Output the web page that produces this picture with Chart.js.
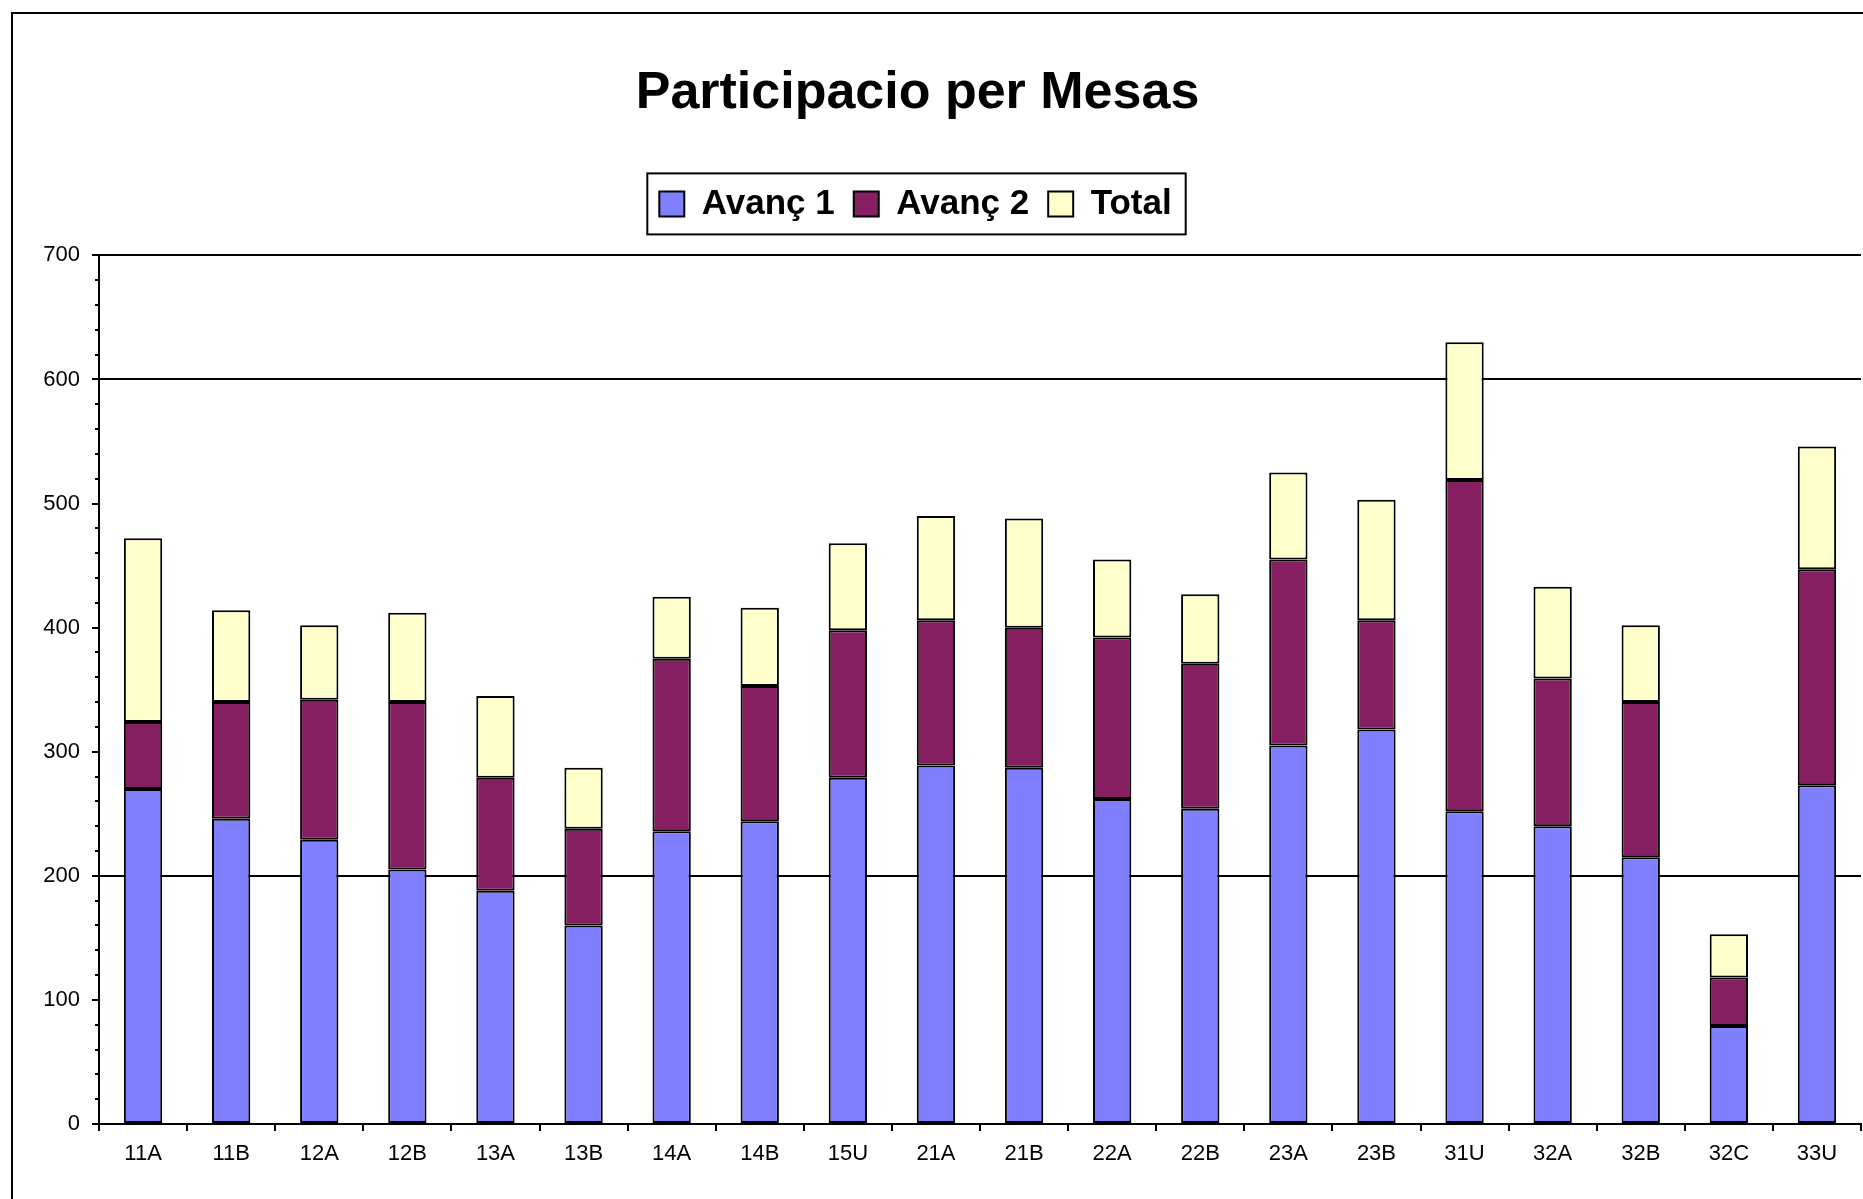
<!DOCTYPE html>
<html>
<head>
<meta charset="utf-8">
<title>Participacio per Mesas</title>
<script src="https://cdn.jsdelivr.net/npm/chart.js@4.4.0/dist/chart.umd.min.js"></script>
<style>
  html, body { margin: 0; padding: 0; background: #fff; overflow: hidden; }
  #wrap { position: relative; width: 1863px; height: 1199px; }
  #frame { position: absolute; left: 11px; top: 12px; width: 1900px; height: 1250px; border: 2px solid #000; }
  #myChart { position: absolute; left: 0; top: 0; }
</style>
</head>
<body>
<div id="wrap">
  <div id="frame"></div>
  <canvas id="myChart" width="1863" height="1199"></canvas>
</div>
<script>
const mesas = ["11A", "11B", "12A", "12B", "13A", "13B", "14A", "14B", "15U", "21A",
  "21B", "22A", "22B", "23A", "23B", "31U", "32A", "32B", "32C", "33U"];

// segment heights (they stack up to the bar tops)
const avanc1 = [270, 246, 229, 205, 188, 160, 236, 244, 279, 289, 287, 262, 254, 305, 318, 252, 240, 215, 79, 273];
const avanc2 = [54, 94, 113, 135, 91, 78, 139, 109, 119, 117, 113, 130, 117, 150, 88, 267, 119, 125, 39, 174];
const total = [148, 74, 60, 72, 66, 49, 50, 63, 70, 84, 88, 63, 56, 70, 97, 111, 74, 62, 35, 99];

const yLabels = [0, 100, 200, 300, 400, 500, 600, 700];
const gridValues = [200, 600, 700];

const tickFont = { family: "'Liberation Sans Narrow', 'Liberation Sans', Arial, sans-serif", size: 22 };

// small outside ticks every 20 between the labelled ones
const minorTicks = {
  id: "minorTicks",
  afterDraw(chart) {
    const y = chart.scales.y;
    const left = chart.chartArea.left;
    const c = chart.ctx;
    c.save();
    c.strokeStyle = "#000";
    c.lineWidth = 2;
    for (let v = 0; v <= 700; v += 20) {
      if (v % 100 === 0) continue;
      const py = Math.round(y.getPixelForValue(v));
      c.beginPath();
      c.moveTo(left - 4, py);
      c.lineTo(left, py);
      c.stroke();
    }
    c.restore();
  },
};

// title and legend sit a bit left of centre, legend has a frame
const legendFrame = {
  id: "legendFrame",
  afterLayout(chart) {
    chart.titleBlock.left -= 13;
    chart.titleBlock.right -= 13;
    chart.legend.left -= 15;
    chart.legend.right -= 15;
  },
  afterDraw(chart) {
    const lg = chart.legend;
    const w = lg.lineWidths[0] - lg.options.labels.padding;
    const cx = (lg.left + lg.right) / 2;
    const c = chart.ctx;
    c.save();
    c.strokeStyle = "#000";
    c.lineWidth = 2;
    c.strokeRect(cx - w / 2 - 12, lg.top + 6, w + 26, 61);
    c.restore();
  },
};

const ctx = document.getElementById("myChart");
new Chart(ctx, {
  type: "bar",
  data: {
    labels: mesas,
    datasets: [
      { label: "Avanç 1", data: avanc1, backgroundColor: "#8080FF", xAxisID: "x", yAxisID: "y" },
      { label: "Avanç 2", data: avanc2, backgroundColor: "#851F61", xAxisID: "x", yAxisID: "y" },
      { label: "Total", data: total, backgroundColor: "#FFFFCC", xAxisID: "x", yAxisID: "y" },
    ],
  },
  options: {
    responsive: false,
    animation: false,
    layout: { padding: { top: 0, right: 2, bottom: 0, left: 0 } },
    datasets: {
      bar: {
        borderColor: "#000",
        borderWidth: 2,
        borderSkipped: false,
        categoryPercentage: 1,
        barPercentage: 0.435,
      },
    },
    plugins: {
      tooltip: { enabled: false },
      title: {
        display: true,
        text: "Participacio per Mesas",
        color: "#000",
        font: { family: "'Liberation Sans', Arial, sans-serif", size: 52, weight: "bold" },
        padding: { top: 62, bottom: 43 },
      },
      legend: {
        display: true,
        labels: {
          color: "#000",
          font: { family: "'Liberation Sans', Arial, sans-serif", size: 35, weight: "bold" },
          boxWidth: 25,
          boxHeight: 25,
          padding: 19,
        },
      },
    },
    scales: {
      x: {
        stacked: true,
        offset: true,
        grid: {
          offset: true,
          drawOnChartArea: false,
          tickLength: 7,
          color: "#000",
          lineWidth: 2,
        },
        border: { color: "#000", width: 2 },
        ticks: {
          font: tickFont,
          color: "#000",
          maxRotation: 0,
          autoSkip: false,
          padding: 10,
        },
        afterFit(s) {
          s.height = 75;
        },
      },
      y: {
        stacked: true,
        min: 0,
        max: 700,
        grid: {
          color: (c) => (gridValues.includes(c.tick.value) ? "#000" : "rgba(0,0,0,0)"),
          tickColor: (c) => (yLabels.includes(c.tick.value) ? "#000" : "rgba(0,0,0,0)"),
          lineWidth: 2,
          tickLength: 7,
        },
        border: { color: "#000", width: 2 },
        ticks: {
          stepSize: 20,
          autoSkip: false,
          font: tickFont,
          color: "#000",
          padding: 12,
          callback: (v) => (yLabels.includes(v) ? v : ""),
        },
        afterFit(s) {
          s.width = 99;
        },
      },
      // empty strip between the legend and the plot
      gap: {
        type: "category",
        position: "top",
        grid: { display: false },
        border: { display: false },
        ticks: { display: false },
        afterFit(s) {
          s.height = 24;
        },
      },
    },
  },
  plugins: [minorTicks, legendFrame],
});
</script>
</body>
</html>
